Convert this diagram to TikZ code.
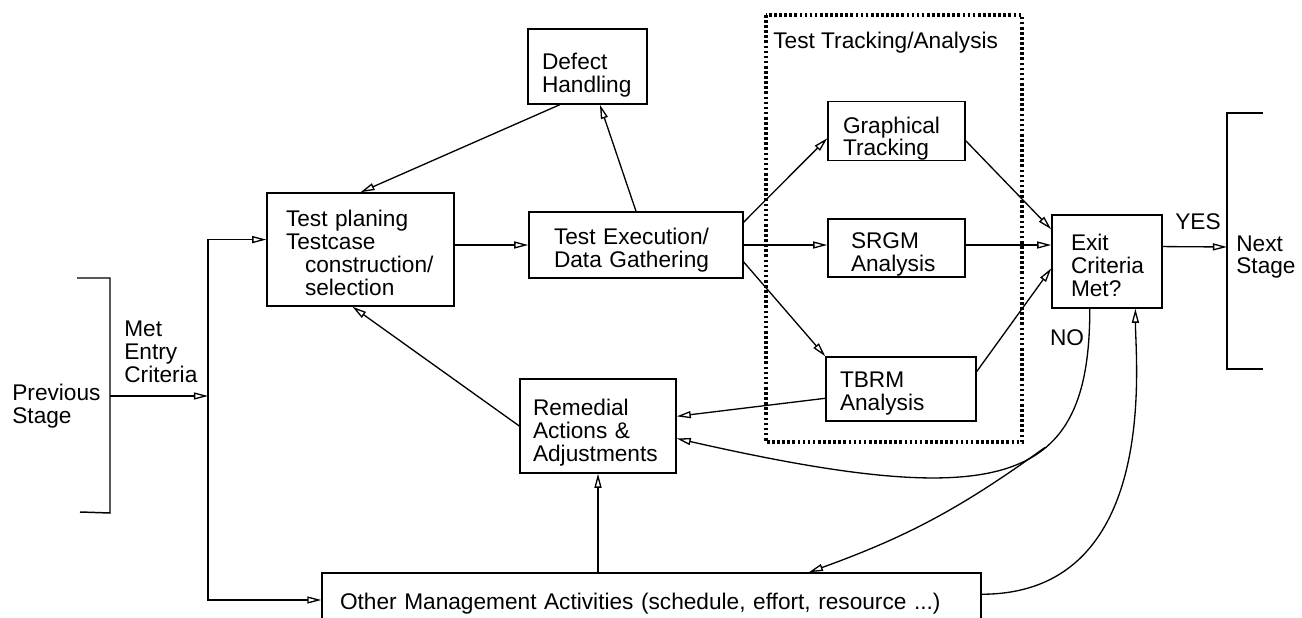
\documentclass[tikz,border=0pt]{standalone}
\usepackage{fontspec}
\setmainfont{Liberation Sans}
\usetikzlibrary{arrows.meta,calc}

\tikzset{
  box/.style={draw, line width=0.85pt, align=left, inner sep=0pt},
  lift/.style={execute at begin node={\rule{0pt}{#1}}},
  arr/.style={line width=0.75pt, -{Triangle[open,length=8pt,width=4pt,line width=0.75pt]}},
  lbl/.style={anchor=west, align=left, inner sep=0pt},
}

\begin{document}
\begin{tikzpicture}[x=0.02cm, y=-0.02cm, font=\fontsize{12.9}{13}\selectfont]
    \useasboundingbox (0,0) rectangle (1302,618);
    \clip (0,0) rectangle (1302,618);

    % Stages
    \draw[line width=0.85pt] (77,278) -- (110,278) -- (110,513) -- (80,512);
    \node[lbl] (prev) at (12,406) {Previous\\Stage};
    \draw[line width=0.85pt] (1263,113) -- (1227,113) -- (1227,369) -- (1263,369);
    \node[lbl] (next) at (1236,257) {Next\\Stage};
    \node[lbl] (met) at (124,352) {Met\\Entry\\Criteria};

    % Main boxes
    \node[box, lift=13pt, minimum width=3.74cm, minimum height=2.26cm, text width=2.98cm] (plan) at (360.5,249.5)
        {Test planing\\Testcase\\\hspace*{0.38cm}construction/\\\hspace*{0.38cm}selection};
    \node[box, lift=15pt, minimum width=4.28cm, minimum height=1.32cm, text width=3.28cm] (exec) at (636,245) {Test Execution/\\Data Gathering};
    \node[box, lift=19pt, minimum width=2.38cm, minimum height=1.5cm, text width=1.82cm] (defect) at (587.5,66.5) {Defect\\Handling};
    \node[box, lift=17pt, minimum width=3.12cm, minimum height=1.88cm, text width=2.6cm] (remedial) at (598,426) {Remedial\\Actions \&\\Adjustments};
    \node[box, lift=14pt, minimum width=13.18cm, minimum height=1.08cm, text width=12.46cm] (other) at (651.5,600)
        {Other Management Activities (schedule, effort, resource ...)};

    % Test tracking group
    \draw[line width=1.8pt, dash pattern=on 1.5pt off 1.4pt] (766,15) rectangle (1022,442);
    \node[lbl] (track) at (773,43) {Test Tracking/Analysis};
    \node[box, lift=18pt, minimum width=2.74cm, minimum height=1.16cm, text width=2.14cm] (graph) at (896.5,131) {Graphical\\Tracking};
    \node[box, lift=16pt, minimum width=2.74cm, minimum height=1.16cm, text width=1.82cm] (srgm) at (896.5,248) {SRGM\\Analysis};
    \node[box, lift=14pt, minimum width=3cm, minimum height=1.28cm, text width=2.44cm] (tbrm) at (901,389) {TBRM\\Analysis};
    \node[box, lift=14pt, minimum width=2.2cm, minimum height=1.86cm, text width=1.44cm] (exit) at (1107,261.5) {Exit\\Criteria\\Met?};
    \node (yes) at (1198,222) {YES};
    \node (no) at (1067,338) {NO};

    % Entry
    \coordinate (prevout) at (110,396);
    \coordinate (split) at (208,396);
    \coordinate (nextin) at (1227,247);
    \draw[arr] (prevout) -- (split);
    \draw[arr] (split) -- (split |- plan.174) -- (plan.174);
    \draw[arr] (split) -- (split |- other.west) -- (other.west);

    % Flow
    \draw[arr] (plan.east |- exec.west) -- (exec.west);
    \draw[arr] (defect.234) -- (plan.north);
    \draw[arr] (exec.north) -- (defect.-72);
    \draw[arr] (exec.12) -- (graph.186);
    \draw[arr] (exec.east) -- (exec.east -| srgm.west);
    \draw[arr] (exec.-9) -- (tbrm.north west);
    \draw[arr] (graph.-8) -- (exit.150);
    \draw[arr] (srgm.east |- exec.east) -- (exec.east -| exit.west);
    \draw[arr] (tbrm.13) -- (exit.187);
    \draw[arr] (exit.15) -- (nextin);
    \draw[arr] (tbrm.187) -- (remedial.7);
    \draw[arr] (remedial.west) -- (plan.262);
    \draw[arr] (other.north -| remedial.south) -- (remedial.south);

    % Feedback
    \draw[arr] (exit.250) .. controls +(0,175) and +(330,75) .. (remedial.-9) coordinate[pos=0.38] (nobranch);
    \draw[arr] (nobranch) to[bend left=8] (other.10);
    \draw[arr] (other.1) .. controls +(179,0) and +(0,52) .. (exit.-59);
\end{tikzpicture}
\end{document}
